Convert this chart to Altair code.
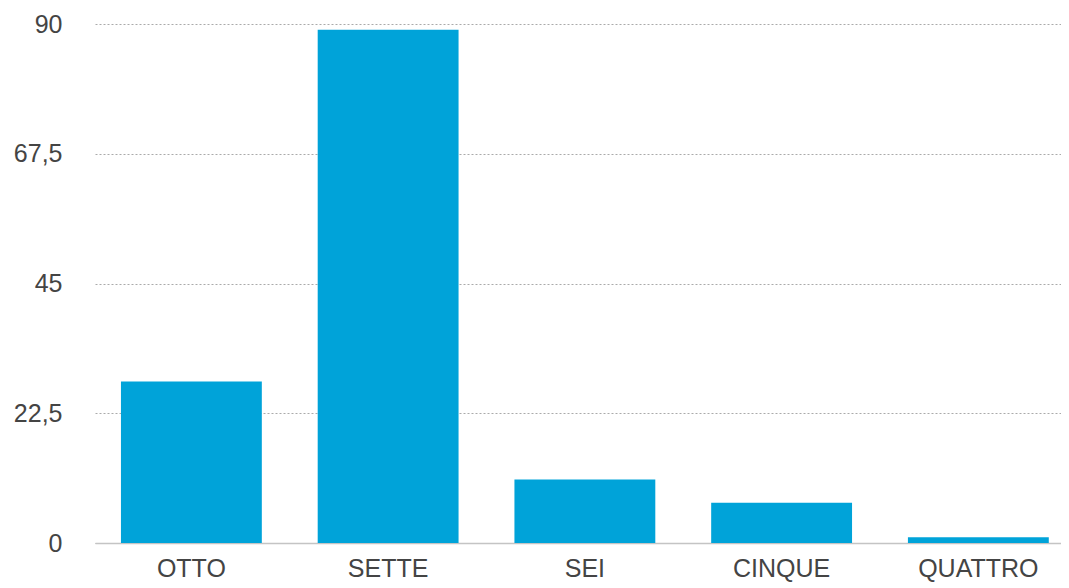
import altair as alt
import pandas as pd

categories = ["OTTO", "SETTE", "SEI", "CINQUE", "QUATTRO"]
values = [28, 89, 11, 7, 1]
y_ticks = [0, 22.5, 45, 67.5, 90]

df = pd.DataFrame({"cat": categories, "val": values})

FONT = "Helvetica Neue, Liberation Sans, Arial, sans-serif"

chart = alt.Chart(df).mark_bar(color="#00A3D9").encode(
    x=alt.X("cat:N", sort=categories, title=None,
            scale=alt.Scale(paddingInner=0.284, paddingOuter=0.097, align=0.68),
            axis=alt.Axis(labelAngle=0, ticks=False, domain=True,
                          domainColor="#c4c4c4", domainWidth=1.5,
                          labelFont=FONT, labelFontSize=25, labelColor="#444444",
                          labelPadding=13, grid=False)),
    y=alt.Y("val:Q", title=None,
            scale=alt.Scale(domain=[0, 90], nice=False),
            axis=alt.Axis(values=y_ticks, ticks=False, domain=False,
                          labelExpr="replace(toString(datum.value), '.', ',')",
                          labelFont=FONT, labelFontSize=25, labelColor="#444444",
                          labelPadding=33, grid=True, gridColor="#aaaaaa",
                          gridDash=[2, 2], gridWidth=1)),
).properties(
    width=966, height=519,
    autosize=alt.AutoSizeParams(type="none"),
    padding={"left": 87, "top": 16, "right": 0, "bottom": 40},
).configure_view(stroke=None)

chart.save("out.html", embed_options={"renderer": "svg", "actions": False})
